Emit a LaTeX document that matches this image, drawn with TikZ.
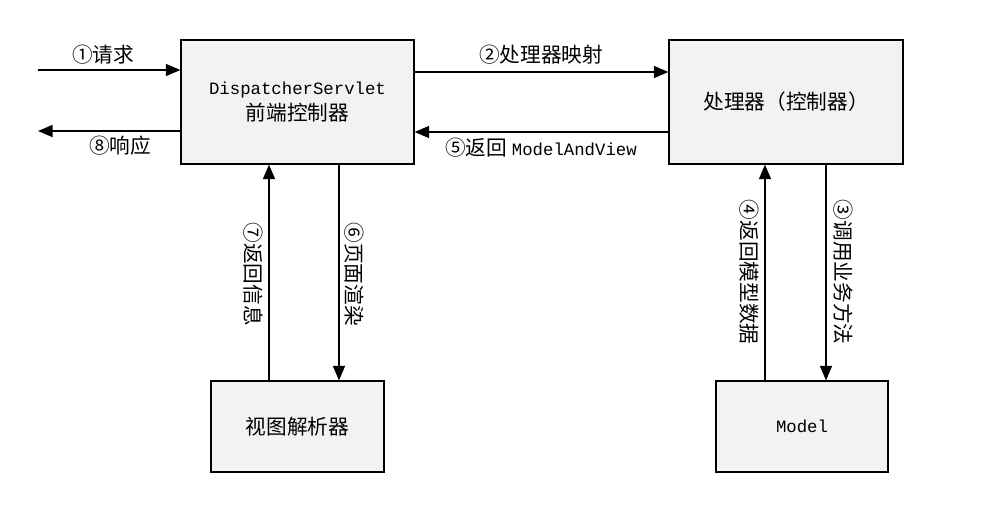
\documentclass[tikz,border=0pt]{standalone}
\usepackage{fontspec}
\usepackage{tikz}
\usetikzlibrary{arrows.meta}
\setmonofont{Liberation Mono}
\newfontfamily\cjk{Noto Sans CJK SC}
\definecolor{boxgray}{HTML}{F2F2F2}
\tikzset{mybox/.style={draw, fill=boxgray, line width=0.8pt, align=center, font=\cjk\fontsize{15.5}{20}\selectfont},
	myarrow/.style={line width=1.3pt, -{Triangle[length=11pt,width=9pt]}},
	mylabel/.style={font=\cjk\fontsize{15.5}{18}\selectfont, inner sep=1pt}}

\begin{document}
\begin{tikzpicture}[x=0.75pt, y=-0.75pt]
				\useasboundingbox (0,0) rectangle (988,512);
				%
				\node[mybox, minimum width=233*0.75pt, minimum height=124*0.75pt] (disp) at (297.5,102) {\texttt{\fontsize{13}{20}\selectfont DispatcherServlet}\\前端控制器};
				\node[mybox, minimum width=234*0.75pt, minimum height=124*0.75pt] (handler) at (786,102) {处理器（控制器）};
				\node[mybox, minimum width=173*0.75pt, minimum height=91*0.75pt] (view) at (297.5,426.5) {视图解析器};
				\node[mybox, minimum width=172*0.75pt, minimum height=91*0.75pt] (model) at (802,426.5) {\texttt{\fontsize{13}{20}\selectfont Model}};
				%
				\coordinate (req) at (38,70);
				\coordinate (resp) at (38,131);
				\draw[myarrow] (req) -- (req -| disp.west);
				\draw[myarrow] (resp -| disp.west) -- (resp);
				\draw[myarrow] (disp.east |- 0,72) -- (handler.west |- 0,72);
				\draw[myarrow] (handler.west |- 0,132) -- (disp.east |- 0,132);
				%
				\draw[myarrow] (view.north -| 269,0) -- (disp.south -| 269,0);
				\draw[myarrow] (disp.south -| 339,0) -- (view.north -| 339,0);
				\draw[myarrow] (model.north -| 765,0) -- (handler.south -| 765,0);
				\draw[myarrow] (handler.south -| 826,0) -- (model.north -| 826,0);
				%
				\node[mylabel] (l1) at (103,55) {①请求};
				\node[mylabel] (l8) at (120,146) {⑧响应};
				\node[mylabel] (l2) at (541,55) {②处理器映射};
				\node[mylabel] (l5) at (541,148) {⑤返回 \texttt{\fontsize{13}{18}\selectfont ModelAndView}};
				\node[mylabel, rotate=-90] (l7) at (253,274) {⑦返回信息};
				\node[mylabel, rotate=-90] (l6) at (354,274) {⑥页面渲染};
				\node[mylabel, rotate=-90] (l4) at (749,272) {④返回模型数据};
				\node[mylabel, rotate=-90] (l3) at (843,272) {③调用业务方法};
			\end{tikzpicture}
\end{document}
